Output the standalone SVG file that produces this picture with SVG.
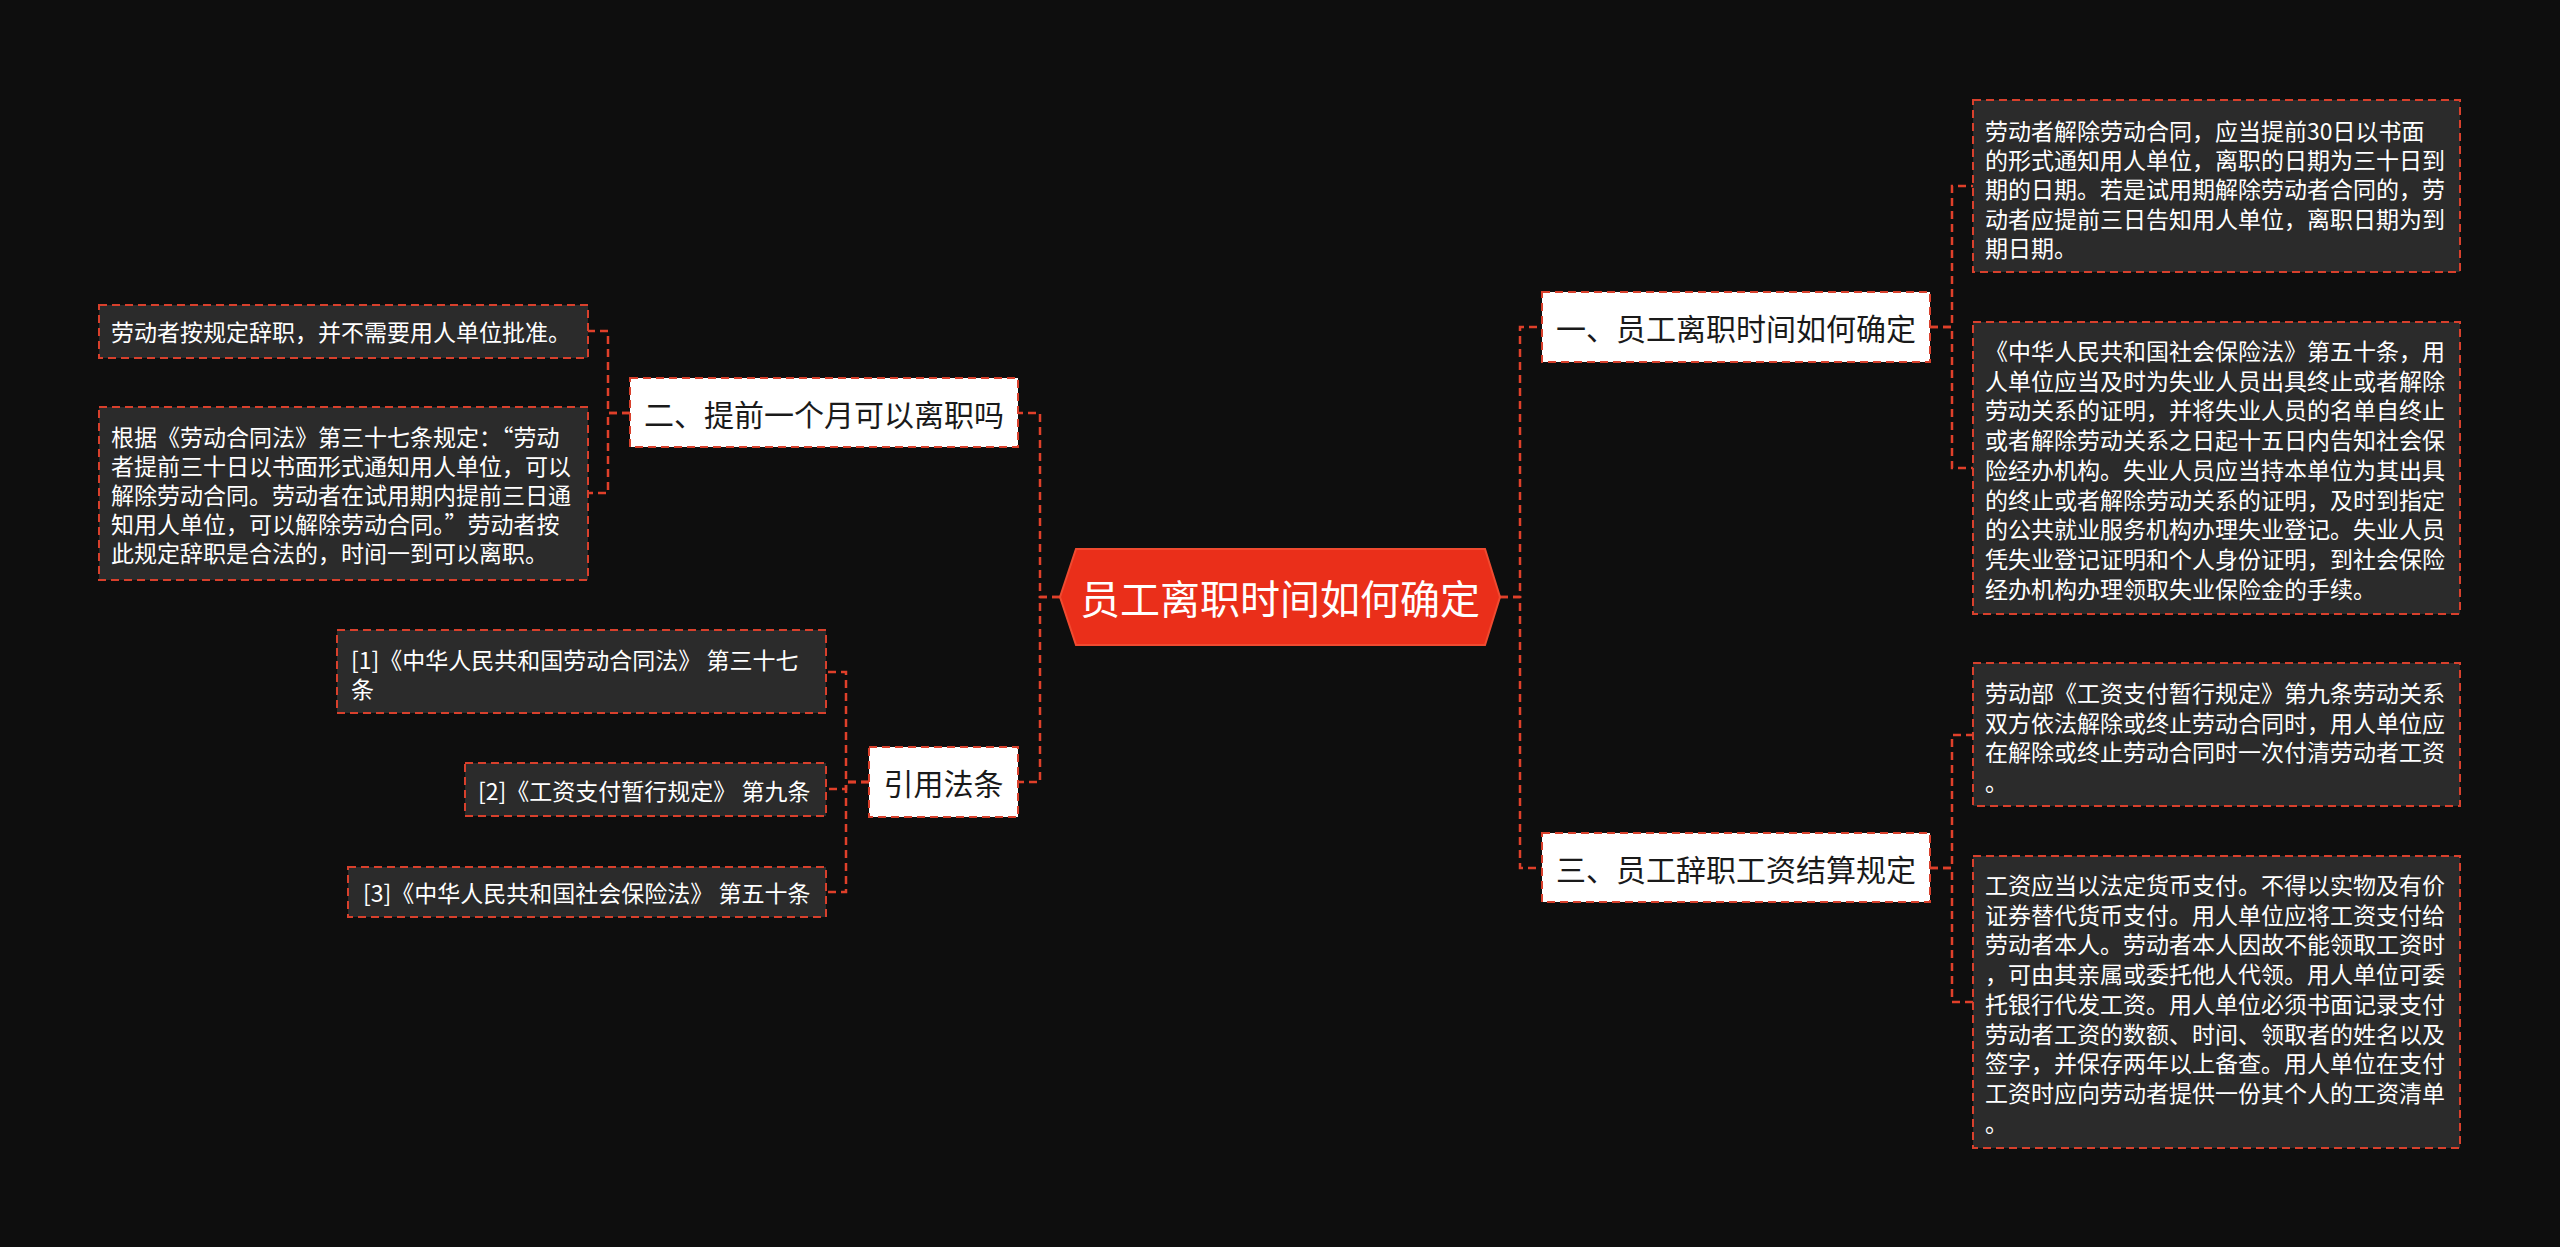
<svg xmlns="http://www.w3.org/2000/svg" width="2560" height="1247" viewBox="0 0 2560 1247">
<style>
.bg{fill:#0e0e0e}
.conn{fill:none;stroke:#e0402a;stroke-width:2.5;stroke-dasharray:8 5}
.l1 rect{fill:#ffffff;stroke:#d8402c;stroke-width:2;stroke-dasharray:8 5}
.l1 text{font-family:"Noto Sans CJK SC","Noto Sans",sans-serif;font-size:30px;fill:#1a1a1a;text-anchor:middle;dominant-baseline:central}
.leaf rect{fill:#2b2b2b;stroke:#d8402c;stroke-width:2;stroke-dasharray:8 5}
.leaf text{font-family:"Noto Sans CJK SC","Noto Sans",sans-serif;font-size:23px;fill:#ffffff;dominant-baseline:central}
.fw{font-feature-settings:"fwid"}
.root text{font-family:"Noto Sans CJK SC","Noto Sans",sans-serif;font-size:40px;fill:#ffffff;text-anchor:middle;dominant-baseline:central}
</style>
<rect class="bg" x="0" y="0" width="2560" height="1247"/>
<g id="connectors">
<path class="conn" d="M1060,597 H1040 V413 H1018"/>
<path class="conn" d="M1060,597 H1040 V782 H1018"/>
<path class="conn" d="M1500,597 H1520 V327 H1542"/>
<path class="conn" d="M1500,597 H1520 V868 H1542"/>
<path class="conn" d="M1930,327 H1952 V186 H1973"/>
<path class="conn" d="M1930,327 H1952 V468 H1973"/>
<path class="conn" d="M1930,868 H1952 V735 H1973"/>
<path class="conn" d="M1930,868 H1952 V1002 H1973"/>
<path class="conn" d="M630,413 H608 V331 H588"/>
<path class="conn" d="M630,413 H608 V493 H588"/>
<path class="conn" d="M869,782 H846 V672 H826"/>
<path class="conn" d="M869,782 H846 V789 H826"/>
<path class="conn" d="M869,782 H846 V892 H826"/>
</g>
<g id="root" class="root">
<polygon points="1060,597 1076,549 1485,549 1500,597 1485,645 1076,645" fill="#ea2f1a" stroke="#f04a30" stroke-width="2"/>
<text x="1280" y="597">员工离职时间如何确定</text>
</g>
<g id="n1" class="l1">
<rect x="1542" y="292" width="388" height="70"/>
<text x="1736" y="327">一、员工离职时间如何确定</text>
</g>
<g id="n3" class="l1">
<rect x="1542" y="833" width="388" height="69"/>
<text x="1736" y="868">三、员工辞职工资结算规定</text>
</g>
<g id="n2" class="l1">
<rect x="630" y="378" width="388" height="69"/>
<text x="824" y="413">二、提前一个月可以离职吗</text>
</g>
<g id="nref" class="l1">
<rect x="869" y="747" width="149" height="70"/>
<text x="943.5" y="782">引用法条</text>
</g>
<g id="leaf1" class="leaf">
<rect x="1973" y="100" width="487" height="172"/>
<text x="1985" y="130"><tspan x="1985" y="130">劳动者解除劳动合同，应当提前30日以书面</tspan><tspan x="1985" y="159.2">的形式通知用人单位，离职的日期为三十日到</tspan><tspan x="1985" y="188.4">期的日期。若是试用期解除劳动者合同的，劳</tspan><tspan x="1985" y="217.6">动者应提前三日告知用人单位，离职日期为到</tspan><tspan x="1985" y="246.8">期日期。</tspan></text>
</g>
<g id="leaf2" class="leaf">
<rect x="1973" y="322" width="487" height="292"/>
<text x="1985" y="350"><tspan x="1985" y="350">《中华人民共和国社会保险法》第五十条，用</tspan><tspan x="1985" y="379.7">人单位应当及时为失业人员出具终止或者解除</tspan><tspan x="1985" y="409.4">劳动关系的证明，并将失业人员的名单自终止</tspan><tspan x="1985" y="439.1">或者解除劳动关系之日起十五日内告知社会保</tspan><tspan x="1985" y="468.8">险经办机构。失业人员应当持本单位为其出具</tspan><tspan x="1985" y="498.5">的终止或者解除劳动关系的证明，及时到指定</tspan><tspan x="1985" y="528.2">的公共就业服务机构办理失业登记。失业人员</tspan><tspan x="1985" y="557.9">凭失业登记证明和个人身份证明，到社会保险</tspan><tspan x="1985" y="587.6">经办机构办理领取失业保险金的手续。</tspan></text>
</g>
<g id="leaf3" class="leaf">
<rect x="1973" y="663" width="487" height="143"/>
<text x="1985" y="692"><tspan x="1985" y="692">劳动部《工资支付暂行规定》第九条劳动关系</tspan><tspan x="1985" y="721.5">双方依法解除或终止劳动合同时，用人单位应</tspan><tspan x="1985" y="751">在解除或终止劳动合同时一次付清劳动者工资</tspan><tspan x="1985" y="780.5">。</tspan></text>
</g>
<g id="leaf4" class="leaf">
<rect x="1973" y="856" width="487" height="292"/>
<text x="1985" y="884"><tspan x="1985" y="884">工资应当以法定货币支付。不得以实物及有价</tspan><tspan x="1985" y="913.7">证券替代货币支付。用人单位应将工资支付给</tspan><tspan x="1985" y="943.4">劳动者本人。劳动者本人因故不能领取工资时</tspan><tspan x="1985" y="973.1">，可由其亲属或委托他人代领。用人单位可委</tspan><tspan x="1985" y="1002.8">托银行代发工资。用人单位必须书面记录支付</tspan><tspan x="1985" y="1032.5">劳动者工资的数额、时间、领取者的姓名以及</tspan><tspan x="1985" y="1062.2">签字，并保存两年以上备查。用人单位在支付</tspan><tspan x="1985" y="1091.9">工资时应向劳动者提供一份其个人的工资清单</tspan><tspan x="1985" y="1121.6">。</tspan></text>
</g>
<g id="leafA" class="leaf">
<rect x="99" y="305" width="489" height="53"/>
<text x="111" y="331">劳动者按规定辞职，并不需要用人单位批准。</text>
</g>
<g id="leafB" class="leaf">
<rect x="99" y="407" width="489" height="173"/>
<text x="111" y="436"><tspan x="111" y="436" class="fw">根据《劳动合同法》第三十七条规定：“劳动</tspan><tspan x="111" y="465">者提前三十日以书面形式通知用人单位，可以</tspan><tspan x="111" y="494">解除劳动合同。劳动者在试用期内提前三日通</tspan><tspan x="111" y="523" class="fw">知用人单位，可以解除劳动合同。”劳动者按</tspan><tspan x="111" y="552">此规定辞职是合法的，时间一到可以离职。</tspan></text>
</g>
<g id="ref1" class="leaf">
<rect x="337" y="630" width="489" height="83"/>
<text x="351" y="659"><tspan x="351" y="659">[1]《中华人民共和国劳动合同法》 第三十七</tspan><tspan x="351" y="688">条</tspan></text>
</g>
<g id="ref2" class="leaf">
<rect x="465" y="763" width="361" height="53"/>
<text x="478" y="789.5">[2]《工资支付暂行规定》 第九条</text>
</g>
<g id="ref3" class="leaf">
<rect x="348" y="867" width="478" height="50"/>
<text x="363" y="892">[3]《中华人民共和国社会保险法》 第五十条</text>
</g>
</svg>
